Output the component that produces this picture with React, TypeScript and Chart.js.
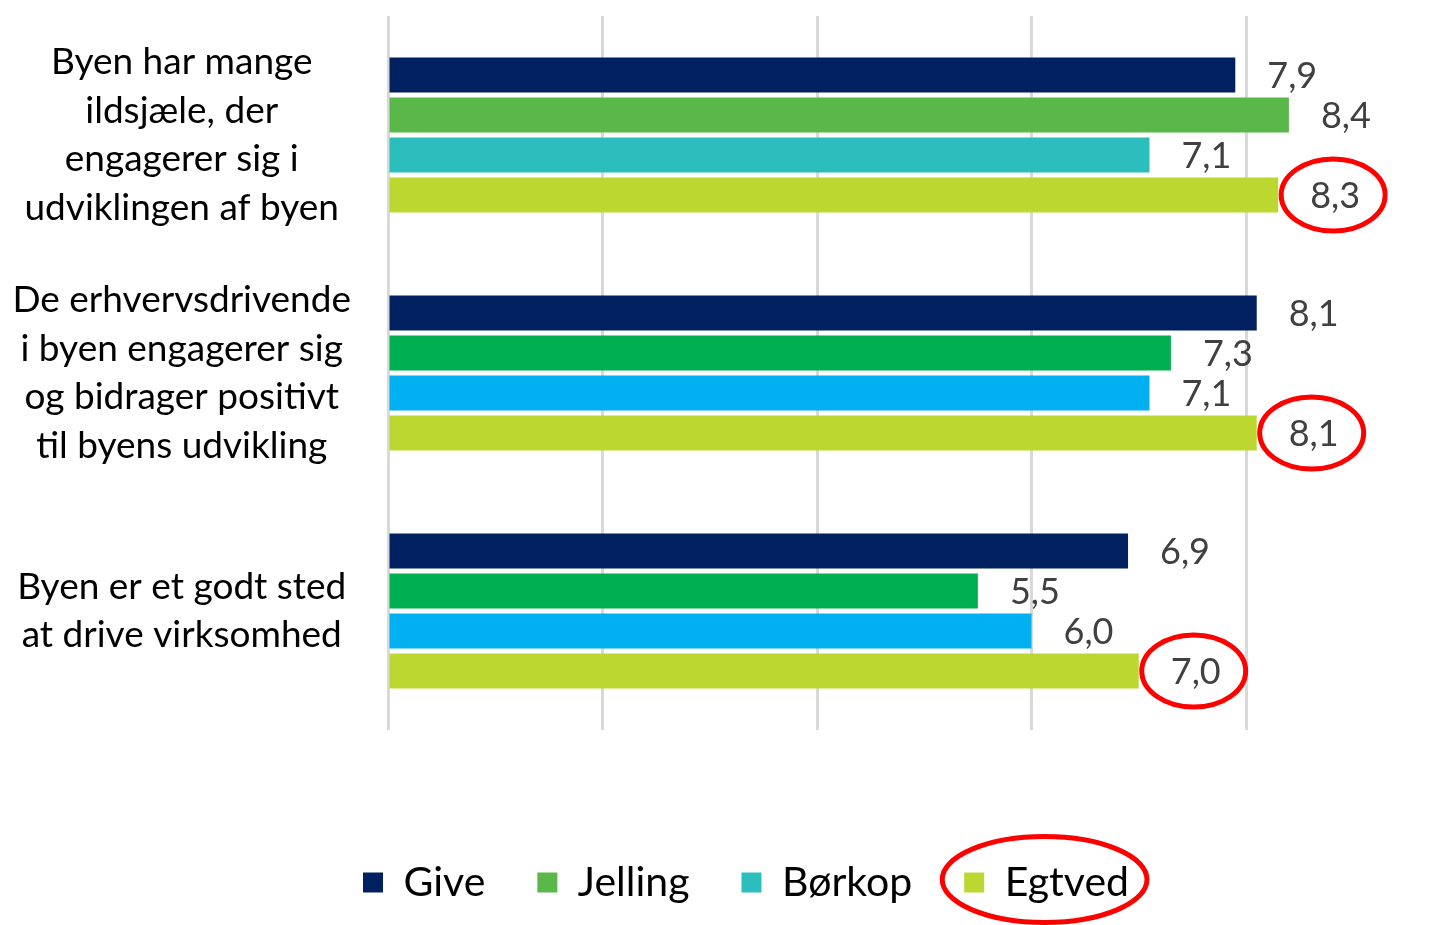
import React, { useEffect, useRef } from "react";
import { Chart, registerables } from "chart.js";

Chart.register(...registerables);

const categories: string[][] = [
  ["Byen har mange", "ildsjæle, der", "engagerer sig i", "udviklingen af byen"],
  ["De erhvervsdrivende", "i byen engagerer sig", "og bidrager positivt", "til byens udvikling"],
  ["Byen er et godt sted", "at drive virksomhed"],
];

const seriesNames = ["Give", "Jelling", "Børkop", "Egtved"];

const giveValues = [7.9, 8.1, 6.9];
const jellingValues = [8.4, 7.3, 5.5];
const borkopValues = [7.1, 7.1, 6.0];
const egtvedValues = [8.3, 8.1, 7.0];

const xTicks = [0, 2, 4, 6, 8];

const giveColors = ["#002060", "#002060", "#002060"];
const jellingColors = ["#5AB84B", "#00B050", "#00B050"];
const borkopColors = ["#2CBDBD", "#00B0F0", "#00B0F0"];
const egtvedColors = ["#BDD731", "#BDD731", "#BDD731"];
const legendColors = ["#002060", "#5AB84B", "#2CBDBD", "#BDD731"];

const FONT = "Lato, 'Open Sans', sans-serif";
const LABEL_OFFSET = 32;
const LABEL_SIZE = 36;
const highlightDataset = 3;

const fmt = (v: number) => v.toFixed(1).replace(".", ",");

const labelPlugin = {
  id: "valueLabels",
  afterLayout(chart: any) {
    // let the multi-line category labels use the full left margin
    if (chart.scales.y) chart.scales.y.left = 0;
  },
  afterDatasetsDraw(chart: any) {
    const ctx = chart.ctx;
    ctx.save();
    ctx.font = `${LABEL_SIZE}px ${FONT}`;
    ctx.fillStyle = "#404040";
    ctx.textAlign = "left";
    ctx.textBaseline = "middle";
    chart.data.datasets.forEach((ds: any, di: number) => {
      const meta = chart.getDatasetMeta(di);
      meta.data.forEach((el: any, i: number) => {
        const txt = fmt(ds.data[i]);
        ctx.fillText(txt, el.x + LABEL_OFFSET, el.y + 1);
      });
    });
    ctx.restore();
  },
  afterDraw(chart: any) {
    const ctx = chart.ctx;
    ctx.save();
    ctx.strokeStyle = "#FF0000";
    ctx.lineWidth = 5;
    ctx.font = `${LABEL_SIZE}px ${FONT}`;
    const ds = chart.data.datasets[highlightDataset];
    const meta = chart.getDatasetMeta(highlightDataset);
    meta.data.forEach((el: any, i: number) => {
      const w = ctx.measureText(fmt(ds.data[i])).width;
      const cx = el.x + LABEL_OFFSET + w / 2 - 2;
      ctx.beginPath();
      ctx.ellipse(cx, el.y, w / 2 + 27, 36, 0, 0, Math.PI * 2);
      ctx.stroke();
    });
    const hb = chart.legend && chart.legend.legendHitBoxes && chart.legend.legendHitBoxes[highlightDataset];
    if (hb) {
      ctx.beginPath();
      ctx.ellipse(hb.left + hb.width / 2 - 2, hb.top + hb.height / 2 - 3, hb.width / 2 + 20, 43, 0, 0, Math.PI * 2);
      ctx.stroke();
    }
    ctx.restore();
  },
};

export default function App() {
  const ref = useRef<HTMLCanvasElement | null>(null);

  useEffect(() => {
    if (!ref.current) return;
    const chart = new Chart(ref.current, {
      type: "bar",
      data: {
        labels: categories,
        datasets: [
          { label: seriesNames[0], data: giveValues, backgroundColor: giveColors },
          { label: seriesNames[1], data: jellingValues, backgroundColor: jellingColors },
          { label: seriesNames[2], data: borkopValues, backgroundColor: borkopColors },
          { label: seriesNames[3], data: egtvedValues, backgroundColor: egtvedColors },
        ],
      },
      options: {
        indexAxis: "y",
        animation: false,
        responsive: false,
        maintainAspectRatio: false,
        datasets: {
          bar: { categoryPercentage: 0.672, barPercentage: 0.875 },
        },
        layout: { padding: { top: 16, left: 36, right: 0, bottom: 12 } },
        scales: {
          x: {
            min: 0,
            max: 9.958,
            afterBuildTicks: (scale: any) => {
              scale.ticks = xTicks.map((v) => ({ value: v }));
            },
            afterFit: (scale: any) => {
              scale.height = 80;
              scale.paddingLeft = 0;
              scale.paddingRight = 0;
            },
            ticks: { display: false },
            grid: { color: "#D9D9D9", lineWidth: 3, drawTicks: false },
            border: { display: false },
          },
          y: {
            afterFit: (scale: any) => {
              scale.width = 352;
              scale.paddingTop = 0;
              scale.paddingBottom = 0;
            },
            grid: { display: false },
            border: { display: false },
            ticks: {
              crossAlign: "center",
              padding: 29,
              color: "#000000",
              font: { family: FONT, size: 37, lineHeight: 1.31 },
            },
          },
        },
        plugins: {
          tooltip: { enabled: false },
          legend: {
            position: "bottom",
            labels: {
              boxWidth: 20,
              boxHeight: 20,
              padding: 52,
              color: "#000000",
              font: { family: FONT, size: 41 },
              generateLabels: () =>
                seriesNames.map((n, i) => ({
                  text: n,
                  fillStyle: legendColors[i],
                  strokeStyle: legendColors[i],
                  lineWidth: 0,
                  hidden: false,
                  datasetIndex: i,
                })),
            },
          },
        },
      },
      plugins: [labelPlugin],
    } as any);
    return () => chart.destroy();
  }, []);

  return (
    <div style={{ position: "fixed", left: 0, top: 0, width: 1456, height: 925, background: "#fff" }}>
      <canvas ref={ref} width={1456} height={925} style={{ width: 1456, height: 925, display: "block" }} />
    </div>
  );
}
